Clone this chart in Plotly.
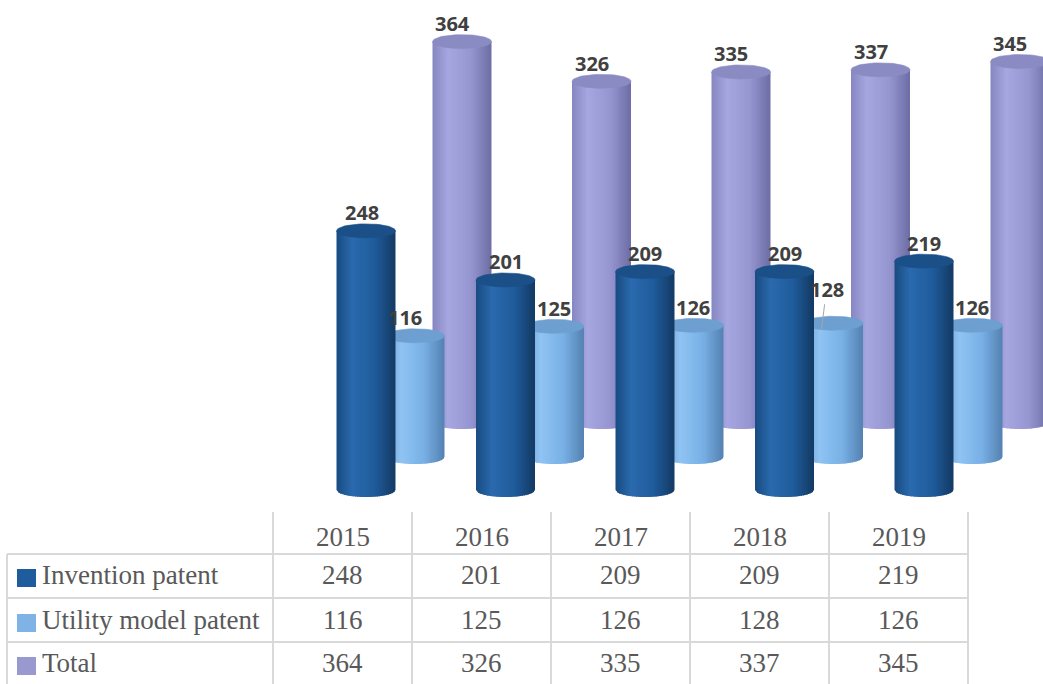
import numpy as np
import plotly.graph_objects as go

# ---------------- data ----------------
years = ["2015", "2016", "2017", "2018", "2019"]
series_names = ["Invention patent", "Utility model patent", "Total"]
invention = [248, 201, 209, 209, 219]
utility = [116, 125, 126, 128, 126]
total = [364, 326, 335, 337, 345]

# ---------------- geometry (pixels) ----------------
W, H = 1043, 684
PX_PER_CAT = 139.5        # horizontal distance between years
CAT0_PX = 366             # centre of first front cylinder
PX_PER_UNIT = 1.045       # vertical scale
BASE_PX = 490             # baseline of the front series
DEPTH_DX_PX = [0, 49, 96]   # depth shift per series (right)
DEPTH_DY_PX = [0, 33, 68]   # depth shift per series (up)
RADIUS_PX = 29.5
ELL_PX = 7.0

x_range = [-CAT0_PX / PX_PER_CAT, (W - CAT0_PX) / PX_PER_CAT]
y_range = [-(H - BASE_PX) / PX_PER_UNIT, BASE_PX / PX_PER_UNIT]
a = RADIUS_PX / PX_PER_CAT
e = ELL_PX / PX_PER_UNIT

# colour stops across the cylinder (u from -1 left to +1 right)
palettes = {
    "Invention patent": [(-1, "#194a80"), (-0.45, "#2a6aad"), (0.3, "#1f5c9c"), (1, "#143a64")],
    "Utility model patent": [(-1, "#6b9fd3"), (-0.45, "#8fc3f3"), (0.3, "#79b1e6"), (1, "#5582b3")],
    "Total": [(-1, "#8585c0"), (-0.45, "#a6a6e0"), (0.3, "#9696d1"), (1, "#6e6ea6")],
}
cap_colors = {"Invention patent": "#1b4f87", "Utility model patent": "#6d9fd1", "Total": "#8b8bc3"}
key_colors = {"Invention patent": "#1f5c9e", "Utility model patent": "#7fb2e5", "Total": "#9999cf"}


def hex2rgb(h):
    h = h.lstrip("#")
    return np.array([int(h[i:i + 2], 16) for i in (0, 2, 4)], dtype=float)


def shade(stops, u):
    for (u0, c0), (u1, c1) in zip(stops[:-1], stops[1:]):
        if u0 <= u <= u1:
            t = (u - u0) / (u1 - u0)
            c = hex2rgb(c0) * (1 - t) + hex2rgb(c1) * t
            return "rgb(%d,%d,%d)" % tuple(np.round(c))
    return stops[-1][1]


values = {"Invention patent": invention, "Utility model patent": utility, "Total": total}
fig = go.Figure()

N = 32
draw_order = [2, 1, 0]  # back to front
for s in draw_order:
    name = series_names[s]
    vals = values[name]
    dx = DEPTH_DX_PX[s] / PX_PER_CAT
    dy = DEPTH_DY_PX[s] / PX_PER_UNIT
    for j in range(N):
        u0 = -1 + 2 * j / N
        u1 = min(-1 + 2 * (j + 1) / N + 0.03, 1.0)
        uc = (u0 + u1) / 2
        xs, ys = [], []
        for i, v in enumerate(vals):
            cx = i + dx
            top = v + dy
            b0 = dy - e * np.sqrt(max(0.0, 1 - u0 ** 2))
            b1 = dy - e * np.sqrt(max(0.0, 1 - u1 ** 2))
            xs += [cx + u0 * a, cx + u1 * a, cx + u1 * a, cx + u0 * a, cx + u0 * a, None]
            ys += [b0, b1, top, top, b0, None]
        fig.add_trace(go.Scatter(x=xs, y=ys, mode="lines", fill="toself",
                                 fillcolor=shade(palettes[name], uc),
                                 line=dict(width=0), hoverinfo="skip", showlegend=False))
    # top caps
    t = np.linspace(0, 2 * np.pi, 64)
    xs, ys = [], []
    for i, v in enumerate(vals):
        cx = i + dx
        top = v + dy
        xs += list(cx + a * np.cos(t)) + [None]
        ys += list(top + e * np.sin(t)) + [None]
    fig.add_trace(go.Scatter(x=xs, y=ys, mode="lines", fill="toself",
                             fillcolor=cap_colors[name], line=dict(width=0.6, color=cap_colors[name]),
                             hoverinfo="skip", showlegend=False))

# ---------------- data labels ----------------
label_dx_px = [0, -1, -10]
label_dx_override = {("Utility model patent", "2015"): -10, ("Invention patent", "2015"): -4}
LFONT = dict(family="Open Sans", size=20, color="#404040")
annotations = []
for s, name in enumerate(series_names):
    vals = values[name]
    dx = DEPTH_DX_PX[s] / PX_PER_CAT
    dy = DEPTH_DY_PX[s] / PX_PER_UNIT
    for i, v in enumerate(vals):
        cx = i + dx
        top = v + dy
        if name == "Utility model patent" and years[i] == "2018":
            annotations.append(dict(
                x=cx - 12 / PX_PER_CAT, y=top - 6 / PX_PER_UNIT, xref="x", yref="y",
                text="<b>%d</b>" % v, showarrow=True, arrowhead=0, arrowwidth=1,
                arrowcolor="#a6a6a6", ax=5, ay=-40, standoff=0, font=LFONT))
        else:
            annotations.append(dict(
                x=cx, y=top, xref="x", yref="y", text="<b>%d</b>" % v, showarrow=False,
                xshift=label_dx_override.get((name, years[i]), label_dx_px[s]),
                yshift=18, yanchor="middle", font=LFONT))

# ---------------- data table ----------------
TBL_LEFT = 7
COL0_RIGHT = 273
COL_W = 139
HEADER_TOP = 512
ROW_LINES = [554, 598, 642]
ROW_CENTERS = [575, 620, 663]
HEADER_CENTER = 537
GRID = "#d9d9d9"
TXT = "#595959"
TFONT = dict(family="Liberation Serif", size=27, color=TXT)


def px(x):
    return x / W


def py(y):
    return 1 - y / H


shapes = []
ncol = len(years)
right = COL0_RIGHT + ncol * COL_W
for y in ROW_LINES:
    shapes.append(dict(type="line", xref="paper", yref="paper", x0=px(TBL_LEFT), x1=px(right),
                       y0=py(y), y1=py(y), line=dict(color=GRID, width=2)))
for k in range(ncol + 1):
    x = COL0_RIGHT + k * COL_W
    shapes.append(dict(type="line", xref="paper", yref="paper", x0=px(x), x1=px(x),
                       y0=py(HEADER_TOP), y1=py(H + 2), line=dict(color=GRID, width=2)))
shapes.append(dict(type="line", xref="paper", yref="paper", x0=px(TBL_LEFT), x1=px(TBL_LEFT),
                   y0=py(ROW_LINES[0]), y1=py(H + 2), line=dict(color=GRID, width=2)))

for k, yr in enumerate(years):
    annotations.append(dict(x=px(COL0_RIGHT + (k + 0.5) * COL_W), y=py(HEADER_CENTER), xref="paper",
                            yref="paper", text=yr, showarrow=False, font=TFONT,
                            xanchor="center", yanchor="middle"))
for r, name in enumerate(series_names):
    yc = ROW_CENTERS[r]
    shapes.append(dict(type="rect", xref="paper", yref="paper", x0=px(17), x1=px(36),
                       y0=py(yc + 12), y1=py(yc - 6), fillcolor=key_colors[name], line=dict(width=0)))
    annotations.append(dict(x=px(40), y=py(yc), xref="paper", yref="paper", text=name,
                            showarrow=False, font=TFONT, xanchor="left", yanchor="middle"))
    for k, v in enumerate(values[name]):
        annotations.append(dict(x=px(COL0_RIGHT + (k + 0.5) * COL_W), y=py(yc), xref="paper",
                                yref="paper", text=str(v), showarrow=False, font=TFONT,
                                xanchor="center", yanchor="middle"))

fig.update_layout(
    width=W, height=H, margin=dict(l=0, r=0, t=0, b=0),
    paper_bgcolor="white", plot_bgcolor="white",
    xaxis=dict(range=x_range, visible=False, fixedrange=True),
    yaxis=dict(range=y_range, visible=False, fixedrange=True),
    showlegend=False, shapes=shapes, annotations=annotations,
)
fig.write_html("out.html", post_script="document.body.style.margin='0';",
               config={"displayModeBar": False})
